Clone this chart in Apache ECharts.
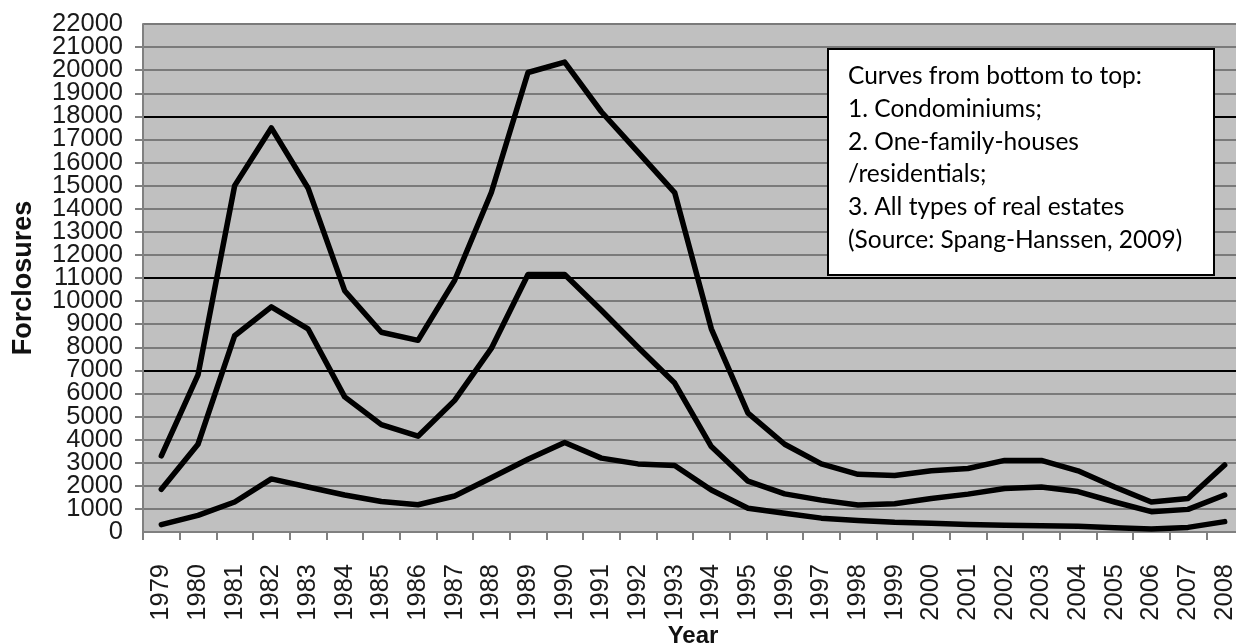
<!DOCTYPE html>
<html>
<head>
<meta charset="utf-8">
<script src="https://cdn.jsdelivr.net/npm/echarts@6.0.0/dist/echarts.min.js"></script>
<style>
  html, body { margin: 0; padding: 0; background: #fff; }
  #chart { width: 1236px; height: 644px; }
</style>
</head>
<body>
<div id="chart"></div>
<script>
const years = ['1979', '1980', '1981', '1982', '1983', '1984', '1985', '1986', '1987', '1988',
  '1989', '1990', '1991', '1992', '1993', '1994', '1995', '1996', '1997', '1998',
  '1999', '2000', '2001', '2002', '2003', '2004', '2005', '2006', '2007', '2008']
// curve 3: all types of real estates
const allTypes = [3300, 6800, 15000, 17500, 14900, 10450, 8650, 8300, 10900, 14700,
  19900, 20350, 18200, 16450, 14700, 8800, 5150, 3800, 2950, 2500,
  2450, 2650, 2750, 3100, 3100, 2650, 1950, 1300, 1450, 2900]
// curve 2: one-family-houses / residentials
const oneFamily = [1850, 3800, 8500, 9750, 8800, 5850, 4650, 4150, 5700, 7950,
  11150, 11150, 9600, 8000, 6450, 3700, 2200, 1650, 1380, 1170,
  1220, 1450, 1640, 1880, 1950, 1750, 1300, 880, 980, 1600]
// curve 1: condominiums
const condos = [320, 720, 1300, 2300, 1950, 1600, 1320, 1180, 1560, 2350,
  3150, 3880, 3200, 2950, 2880, 1820, 1030, 810, 600, 500,
  420, 380, 330, 290, 270, 250, 180, 130, 200, 450]
const yMin = 0
const yMax = 22000
const yStep = 1000
const darkLines = [7000, 11000, 18000]
const noteLines = [
  'Curves from bottom to top:',
  '1. Condominiums;',
  '2. One-family-houses',
  '/residentials;',
  '3. All types of real estates',
  '(Source: Spang-Hanssen, 2009)'
]

// split line colours, darker on a few values
let splitColors = []
for (let v = yMin; v <= yMax; v += yStep) {
  splitColors.push(darkLines.indexOf(v) >= 0 ? '#000000' : '#7a7a7a')
}

const axisFont = 'Liberation Sans, Arial, sans-serif'
const labelStyle = {
  margin: 20,
  fontFamily: axisFont,
  fontSize: 25.5,
  color: '#1a1a1a'
}

function lineSeries (name, data) {
  return {
    name: name,
    type: 'line',
    data: data,
    symbol: 'none',
    smooth: false,
    z: 3,
    lineStyle: {
      color: '#000000',
      width: 5.5,
      cap: 'round',
      join: 'round'
    }
  }
}

const option = {
  animation: false,
  backgroundColor: '#ffffff',
  grid: {
    left: 143,
    top: 24,
    right: -7,
    bottom: 112,
    outerBoundsMode: 'none',
    containLabel: false,
    show: true,
    backgroundColor: '#c0c0c0',
    borderWidth: 0
  },
  xAxis: {
    type: 'category',
    data: years,
    boundaryGap: true,
    name: 'Year',
    nameLocation: 'middle',
    nameGap: 92,
    nameMoveOverlap: false,
    nameTextStyle: {
      fontFamily: axisFont,
      fontWeight: 'bold',
      fontSize: 24,
      color: '#111111',
      verticalAlign: 'top'
    },
    axisLine: { lineStyle: { color: '#808080', width: 2 } },
    axisTick: { show: true, alignWithLabel: false, length: 8, lineStyle: { color: '#808080', width: 2 } },
    axisLabel: Object.assign({}, labelStyle, {
      rotate: 90,
      margin: 32,
      interval: 0,
      hideOverlap: false
    }),
    splitLine: { show: false }
  },
  yAxis: [
    {
      type: 'value',
      min: yMin,
      max: yMax,
      interval: yStep,
      name: 'Forclosures',
      nameLocation: 'middle',
      nameGap: 106,
      nameMoveOverlap: false,
      nameTextStyle: {
        fontFamily: axisFont,
        fontWeight: 'bold',
        fontSize: 27,
        color: '#111111'
      },
      axisLine: { show: true, lineStyle: { color: '#808080', width: 2 } },
      axisTick: { show: true, length: 8, lineStyle: { color: '#808080', width: 2 } },
      // inner labels here, the two end labels come from the second axis
      axisLabel: Object.assign({}, labelStyle, {
        showMinLabel: false,
        showMaxLabel: false,
        hideOverlap: false,
        formatter: (val) => String(val)
      }),
      splitLine: {
        show: true,
        lineStyle: { color: splitColors, width: 2 }
      }
    },
    {
      type: 'value',
      position: 'left',
      min: yMin,
      max: yMax,
      interval: yStep,
      axisLine: { show: false },
      axisTick: { show: false },
      splitLine: { show: false },
      axisLabel: Object.assign({}, labelStyle, {
        showMinLabel: true,
        showMaxLabel: true,
        hideOverlap: false,
        formatter: (val) => (val === yMin || val === yMax) ? String(val) : ''
      })
    }
  ],
  series: [
    lineSeries('Condominiums', condos),
    lineSeries('One-family-houses /residentials', oneFamily),
    lineSeries('All types of real estates', allTypes)
  ],
  graphic: [
    {
      type: 'rect',
      left: 827,
      top: 48,
      z: 10,
      shape: { width: 386, height: 226 },
      style: { fill: '#ffffff', stroke: '#000000', lineWidth: 2 }
    },
    {
      type: 'text',
      left: 848,
      top: 60,
      z: 11,
      style: {
        text: noteLines.join('\n'),
        font: '24.5px Lato, "Open Sans", sans-serif',
        lineHeight: 32.7,
        fill: '#000000'
      }
    }
  ]
}

const chartObj = echarts.init(document.getElementById('chart'), null, { renderer: 'canvas' })
chartObj.setOption(option)
</script>
</body>
</html>
